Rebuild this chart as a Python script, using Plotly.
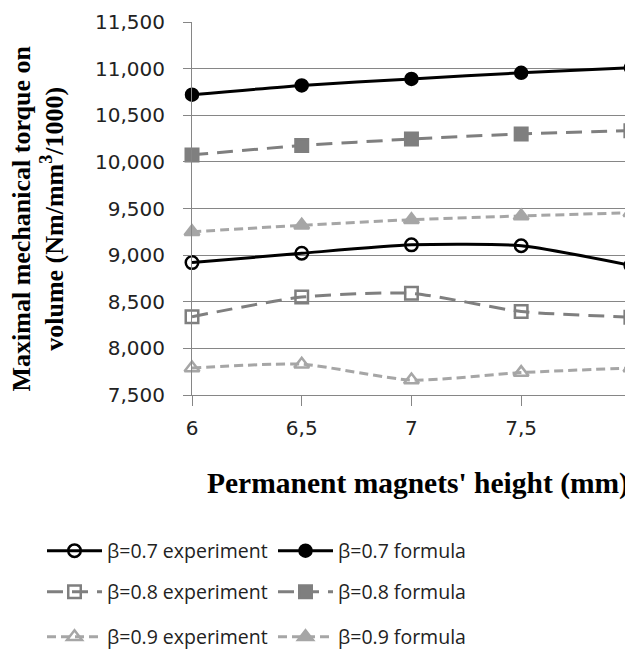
import plotly.graph_objects as go

heights = [6, 6.5, 7, 7.5, 8]
tick_text = ["6", "6,5", "7", "7,5", "8"]

exp_07 = [8920, 9020, 9110, 9100, 8890]
form_07 = [10720, 10820, 10890, 10955, 11010]
exp_08 = [8340, 8550, 8590, 8395, 8335]
form_08 = [10075, 10175, 10245, 10300, 10335]
exp_09 = [7790, 7830, 7660, 7740, 7790]
form_09 = [9250, 9320, 9380, 9420, 9455]

x_title = "<b>Permanent magnets' height (mm)</b>"
y_title = "<b>Maximal mechanical torque on<br>volume (Nm/mm<sup>3</sup>/1000)</b>"

BLACK = "#000000"
GRAY = "#7f7f7f"
LIGHT = "#a6a6a6"

fig = go.Figure()

def add(name, y, color, width, dash, symbol, size, legend):
    fig.add_trace(go.Scatter(
        x=heights, y=y, name=name, mode="lines+markers",
        line=dict(color=color, width=width, dash=dash, shape="spline", smoothing=0.6),
        marker=dict(symbol=symbol, size=size, color=color,
                    line=dict(color=color, width=2.5)),
        cliponaxis=False, legend=legend,
    ))

add("β=0.7 experiment", exp_07, BLACK, 3, "solid", "circle-open", 12.5, "legend")
add("β=0.7 formula", form_07, BLACK, 3, "solid", "circle", 12, "legend2")
add("β=0.8 experiment", exp_08, GRAY, 3, "16px,9px", "square-open", 12.5, "legend3")
add("β=0.8 formula", form_08, GRAY, 3, "16px,9px", "square", 12.5, "legend4")
add("β=0.9 experiment", exp_09, LIGHT, 3, "9px,5px", "triangle-up-open", 13, "legend5")
add("β=0.9 formula", form_09, LIGHT, 3, "9px,5px", "triangle-up", 13, "legend6")

W, H = 633, 655
L, R, T, B = 184, 10, 14, 268
leg_common = dict(orientation="h", xref="container", yref="container",
                  xanchor="left", yanchor="middle",
                  font=dict(family="Open Sans", size=19.5, color="#222"),
                  itemwidth=55, bgcolor="rgba(0,0,0,0)")

col_x = [34 / W, 265 / W]
row_y = [1 - 543 / H, 1 - 584 / H, 1 - 629 / H]

plot_w = W - L - R
plot_h = H - T - B

fig.update_layout(
    width=W, height=H,
    margin=dict(l=L, r=R, t=T, b=B),
    paper_bgcolor="white", plot_bgcolor="white",
    showlegend=True,
    legend=dict(leg_common, x=col_x[0], y=row_y[0]),
    legend2=dict(leg_common, x=col_x[1], y=row_y[0]),
    legend3=dict(leg_common, x=col_x[0], y=row_y[1]),
    legend4=dict(leg_common, x=col_x[1], y=row_y[1]),
    legend5=dict(leg_common, x=col_x[0], y=row_y[2]),
    legend6=dict(leg_common, x=col_x[1], y=row_y[2]),
    xaxis=dict(
        range=[6, 8.0005], tickvals=heights, ticktext=tick_text,
        automargin=False,
        showgrid=False, zeroline=False,
        showline=True, linecolor="#868686", linewidth=1,
        ticks="outside", ticklen=10, tickcolor="#868686",
        ticklabelstandoff=5, ticklabeloverflow="allow",
        tickfont=dict(family="DejaVu Sans", size=20, color="#222"),
    ),
    yaxis=dict(
        range=[7500, 11500], dtick=500, tickformat=",",
        automargin=False,
        showgrid=True, gridcolor="#868686", gridwidth=1,
        zeroline=False,
        showline=True, linecolor="#868686", linewidth=1,
        ticks="outside", ticklen=8, tickcolor="#868686",
        ticklabelstandoff=14,
        tickfont=dict(family="DejaVu Sans", size=20, color="#222"),
    ),
    annotations=[
        dict(text=x_title, xref="paper", yref="paper",
             x=(410 - L) / plot_w, y=0, yshift=-88,
             xanchor="center", yanchor="middle", showarrow=False,
             font=dict(family="Liberation Serif", size=29.5, color="black")),
        dict(text=y_title, xref="paper", yref="paper",
             x=0, xshift=30 - L, y=0.5, yshift=-10,
             xanchor="center", yanchor="middle", showarrow=False, textangle=-90,
             font=dict(family="Liberation Serif", size=26, color="black")),
    ],
)

fig.write_html("out.html")
